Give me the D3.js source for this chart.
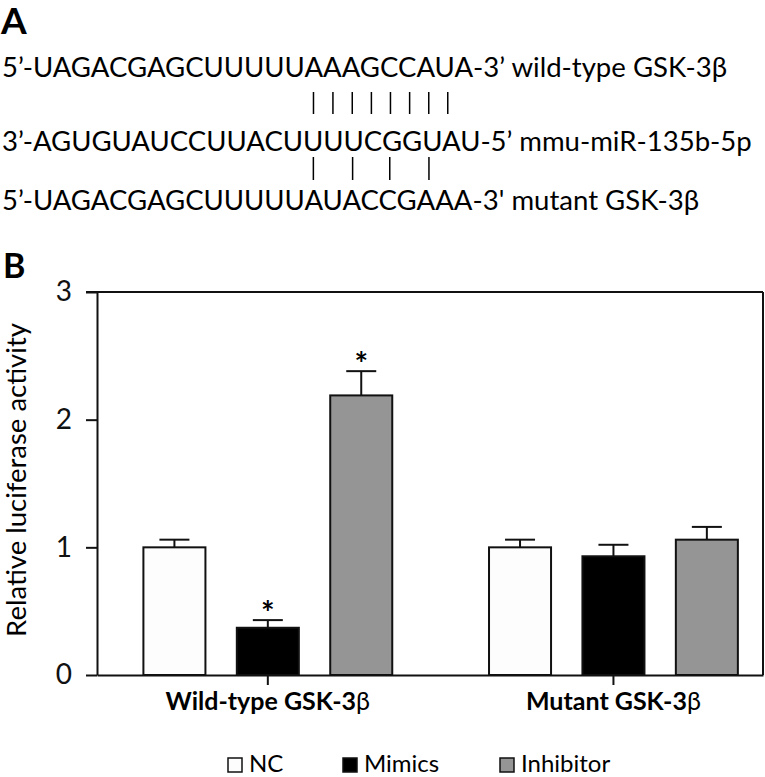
<!DOCTYPE html>
<html>
<head>
<meta charset="utf-8">
<script src="https://cdn.jsdelivr.net/npm/d3@7"></script>
<style>
  body { margin: 0; background: #fff; }
  svg { display: block; font-family: Lato, "Open Sans", sans-serif; }
</style>
</head>
<body>
<div id="chart-container"></div>
<script>
// panel A: sequences and which nucleotides pair
const seqLines = [
  "5’-UAGACGAGCUUUUUAAAGCCAUA-3’ wild-type GSK-3β",
  "3’-AGUGUAUCCUUACUUUUCGGUAU-5’ mmu-miR-135b-5p",
  "5’-UAGACGAGCUUUUUAUACCGAAA-3' mutant GSK-3β"
];
const pairsWild = [14, 15, 16, 17, 18, 19, 20, 21];
const pairsMutant = [14, 16, 18, 20];

// panel B data
const groups = ["Wild-type GSK-3β", "Mutant GSK-3β"];
const treatments = ["NC", "Mimics", "Inhibitor"];
const meanWild = [1.00, 0.37, 2.19];
const errWild = [0.06, 0.06, 0.19];
const meanMutant = [1.00, 0.93, 1.06];
const errMutant = [0.06, 0.09, 0.10];
const starWild = [false, true, true];
const starMutant = [false, false, false];
const yTicks = [0, 1, 2, 3];
const fills = ["#fdfdfd", "#000000", "#959595"];

const W = 765, H = 777;
const svg = d3.select("#chart-container").append("svg")
  .attr("width", W).attr("height", H);

// ---- panel A ----
svg.append("text").attr("x", 1).attr("y", 34)
  .style("font-size", "37px").style("font-weight", "bold").text("A");

const seqFont = 27;
const baselines = [77, 151, 210];
const seqText = svg.selectAll(".seq").data(seqLines).enter()
  .append("text").attr("class", "seq")
  .attr("x", 2)
  .attr("y", (d, i) => baselines[i])
  .style("font-size", seqFont + "px")
  .text(d => d);

// squeeze the lines a little so line 1 spans the same width as in the reference
const lens = seqText.nodes().map(n => n.getComputedTextLength());
const k = 725 / lens[0];
seqText.attr("textLength", (d, i) => lens[i] * k)
  .attr("lengthAdjust", "spacingAndGlyphs");

function charCenter(node, idx) {
  const a = node.getStartPositionOfChar(idx).x;
  const b = node.getEndPositionOfChar(idx).x;
  return (a + b) / 2;
}

function drawPairs(pairs, upper, lower, y0, y1) {
  const nu = seqText.nodes()[upper], nl = seqText.nodes()[lower];
  const px = d => (charCenter(nu, d + 3) + charCenter(nl, d + 3)) / 2;
  svg.selectAll(null).data(pairs).enter().append("line")
    .attr("x1", px).attr("x2", px)
    .attr("y1", y0).attr("y2", y1)
    .attr("stroke", "#000").attr("stroke-width", 1.5);
}
drawPairs(pairsWild, 0, 1, 92, 114);
drawPairs(pairsMutant, 1, 2, 157, 180);

// ---- panel B ----
svg.append("text").attr("x", 3).attr("y", 278)
  .style("font-size", "34px").style("font-weight", "bold").text("B");

const plotLeft = 97, plotRight = 763, plotTop = 292, plotBottom = 675;

const y = d3.scaleLinear().domain([0, 3]).range([plotBottom, plotTop]);
const x0 = d3.scaleBand().domain(groups).range([plotLeft, plotRight])
  .paddingInner(0.187).paddingOuter(0.057).align(0.77);
const x1 = d3.scaleBand().domain(treatments).range([0, x0.bandwidth()])
  .paddingInner(0.336).paddingOuter(0.172);

// frame: top and right lines
svg.append("line").attr("x1", plotLeft - 11).attr("x2", plotRight)
  .attr("y1", y(3)).attr("y2", y(3)).attr("stroke", "#111").attr("stroke-width", 2);
svg.append("line").attr("x1", plotRight).attr("x2", plotRight)
  .attr("y1", y(3)).attr("y2", y(0)).attr("stroke", "#111").attr("stroke-width", 2);

const rows = [];
groups.forEach((g, gi) => {
  treatments.forEach((t, ti) => {
    rows.push({
      group: g, treat: t, fill: fills[ti],
      mean: gi === 0 ? meanWild[ti] : meanMutant[ti],
      err: gi === 0 ? errWild[ti] : errMutant[ti],
      star: gi === 0 ? starWild[ti] : starMutant[ti]
    });
  });
});

const cx = d => x0(d.group) + x1(d.treat) + x1.bandwidth() / 2;
const capW = 30;

// error bars (drawn first so the bar covers the lower part)
svg.selectAll(".err").data(rows).enter().append("line")
  .attr("x1", cx).attr("x2", cx)
  .attr("y1", d => y(d.mean)).attr("y2", d => y(d.mean + d.err))
  .attr("stroke", "#111").attr("stroke-width", 2);
svg.selectAll(".cap").data(rows).enter().append("line")
  .attr("x1", d => cx(d) - capW / 2).attr("x2", d => cx(d) + capW / 2)
  .attr("y1", d => y(d.mean + d.err)).attr("y2", d => y(d.mean + d.err))
  .attr("stroke", "#111").attr("stroke-width", 2);

svg.selectAll(".bar").data(rows).enter().append("rect")
  .attr("x", d => x0(d.group) + x1(d.treat))
  .attr("y", d => y(d.mean))
  .attr("width", x1.bandwidth())
  .attr("height", d => y(0) - y(d.mean))
  .attr("fill", d => d.fill)
  .attr("stroke", "#111").attr("stroke-width", 2);

svg.selectAll(".star").data(rows.filter(d => d.star)).enter().append("text")
  .attr("x", cx)
  .attr("y", d => y(d.mean + d.err) + 5)
  .attr("text-anchor", "middle")
  .style("font-size", "32px").style("font-weight", "bold")
  .text("*");

// y axis
const yAxis = svg.append("g").attr("transform", `translate(${plotLeft},0)`)
  .call(d3.axisLeft(y).tickValues(yTicks).tickFormat(d3.format("d"))
    .tickSize(11).tickPadding(14).tickSizeOuter(0));
yAxis.selectAll("path, line").attr("stroke", "#111").attr("stroke-width", 2);
yAxis.selectAll("text").style("font-size", "28px").style("font-family", "Lato, sans-serif")
  .attr("fill", "#111");

// x axis
const xAxis = svg.append("g").attr("transform", `translate(0,${plotBottom})`)
  .call(d3.axisBottom(x0).tickSize(10).tickSizeOuter(0).tickFormat(""));
xAxis.selectAll("path, line").attr("stroke", "#111").attr("stroke-width", 2);

const xl = svg.selectAll(".xlab").data(groups).enter().append("text")
  .attr("x", d => x0(d) + x0.bandwidth() / 2)
  .attr("y", 710)
  .attr("text-anchor", "middle")
  .style("font-size", "25px");
xl.append("tspan").style("font-weight", "bold").text(d => d.slice(0, -1));
xl.append("tspan").text(d => d.slice(-1));

// y label
svg.append("text")
  .attr("transform", `translate(26,480) rotate(-90)`)
  .attr("text-anchor", "middle")
  .style("font-size", "27.5px")
  .text("Relative luciferase activity");

// legend
const legendX = [228, 343, 500];
const lg = svg.selectAll(".leg").data(treatments).enter().append("g")
  .attr("transform", (d, i) => `translate(${legendX[i]},758)`);
lg.append("rect").attr("width", 14).attr("height", 14)
  .attr("fill", (d, i) => fills[i]).attr("stroke", "#111").attr("stroke-width", 1.5);
lg.append("text").attr("x", 21).attr("y", 14)
  .style("font-size", "24px").text(d => d);
</script>
</body>
</html>
